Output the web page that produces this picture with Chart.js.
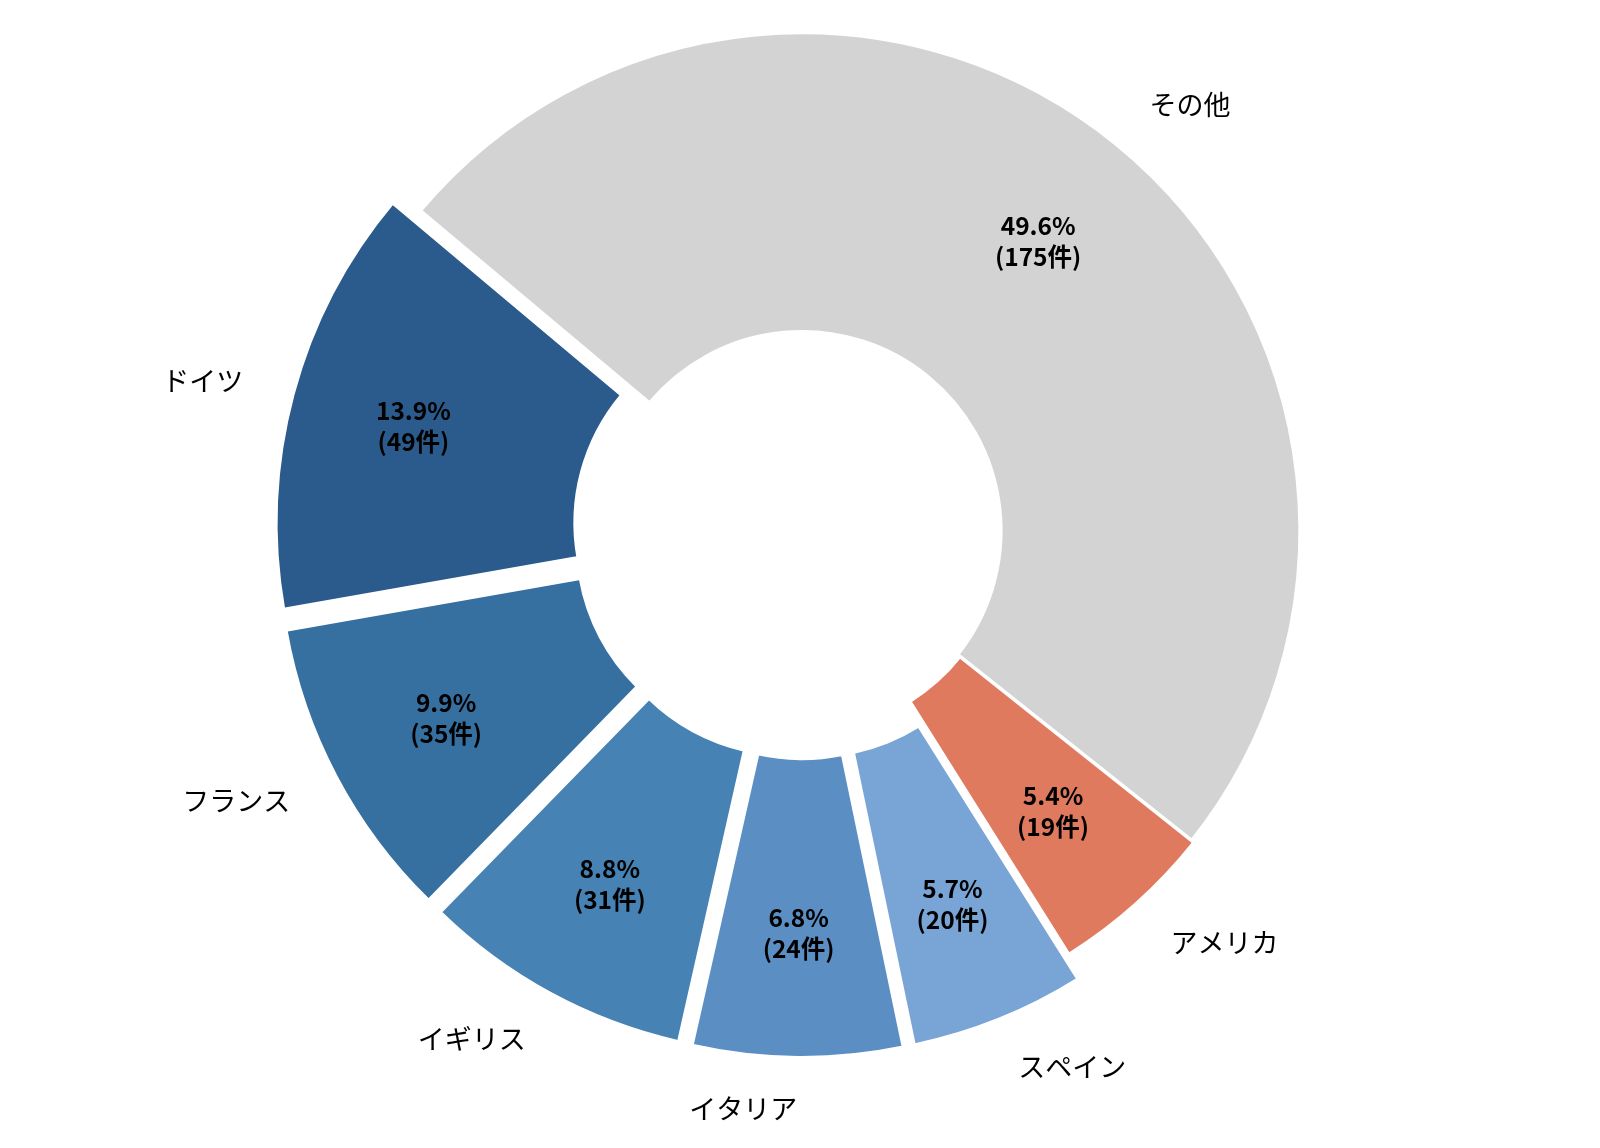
<!DOCTYPE html>
<html>
<head>
<meta charset="utf-8">
<script src="https://cdn.jsdelivr.net/npm/chart.js@4/dist/chart.umd.min.js"></script>
<style>
  html, body { margin: 0; padding: 0; background: #fff; overflow: hidden; }
  canvas { display: block; }
</style>
</head>
<body>
<canvas id="myChart" width="1600" height="1148" style="width:1600px;height:1148px"></canvas>
<script>
// order is clockwise from the top-left boundary
const categories = ['その他', 'アメリカ', 'スペイン', 'イタリア', 'イギリス', 'フランス', 'ドイツ'];
const counts = [175, 19, 20, 24, 31, 35, 49];
const percents = ['49.6%', '5.4%', '5.7%', '6.8%', '8.8%', '9.9%', '13.9%'];
const colors = ['#d3d3d3', '#e07a5f', '#79a5d6', '#5b8fc4', '#4682b4', '#3670a1', '#2a5b8c'];
const explode = [0, 3, 29, 29, 29, 29, 29]; // px shift of each slice

const FONT = '"Noto Sans CJK JP", "Noto Sans", sans-serif';

// draws each arc shifted outward along its middle angle
const explodeArcs = {
    id: 'explodeArcs',
    beforeDatasetsDraw(chart) {
        const ctx = chart.ctx;
        chart.getDatasetMeta(0).data.forEach((arc, i) => {
            const mid = (arc.startAngle + arc.endAngle) / 2;
            ctx.save();
            ctx.translate(Math.cos(mid) * explode[i], Math.sin(mid) * explode[i]);
            arc.draw(ctx);
            ctx.restore();
        });
        return false;
    }
};

// category names outside, percent and count inside
const pieLabels = {
    id: 'pieLabels',
    afterDraw(chart) {
        const ctx = chart.ctx;
        const arcs = chart.getDatasetMeta(0).data;
        ctx.save();
        ctx.fillStyle = '#000';
        ctx.textBaseline = 'middle';
        arcs.forEach((arc, i) => {
            const mid = (arc.startAngle + arc.endAngle) / 2;
            const R = arc.outerRadius;
            const bx = arc.x + Math.cos(mid) * explode[i];
            const by = arc.y + Math.sin(mid) * explode[i];

            const lx = bx + Math.cos(mid) * R * 1.104;
            const ly = by + Math.sin(mid) * R * 1.104;
            ctx.font = '27px ' + FONT;
            ctx.textAlign = Math.cos(mid) >= 0 ? 'left' : 'right';
            ctx.fillText(categories[i], lx, ly);

            const px = bx + Math.cos(mid) * R * 0.75;
            const py = by + Math.sin(mid) * R * 0.75;
            ctx.font = 'bold 24.5px ' + FONT;
            ctx.textAlign = 'center';
            ctx.fillText(percents[i], px, py - 15.5);
            ctx.fillText('(' + counts[i] + '件)', px, py + 15.5);
        });
        ctx.restore();
    }
};

const ctx = document.getElementById('myChart').getContext('2d');
new Chart(ctx, {
    type: 'doughnut',
    data: {
        labels: categories,
        datasets: [{
            data: counts,
            backgroundColor: colors,
            borderColor: '#ffffff',
            borderWidth: 3,
            hoverOffset: 0
        }]
    },
    options: {
        responsive: false,
        devicePixelRatio: 1,
        animation: false,
        cutout: '40%',
        rotation: -50,
        layout: {
            padding: { top: 31.3, bottom: 118.1, left: 202, right: 198 }
        },
        plugins: {
            legend: { display: false },
            tooltip: { enabled: false }
        }
    },
    plugins: [explodeArcs, pieLabels]
});
</script>
</body>
</html>
